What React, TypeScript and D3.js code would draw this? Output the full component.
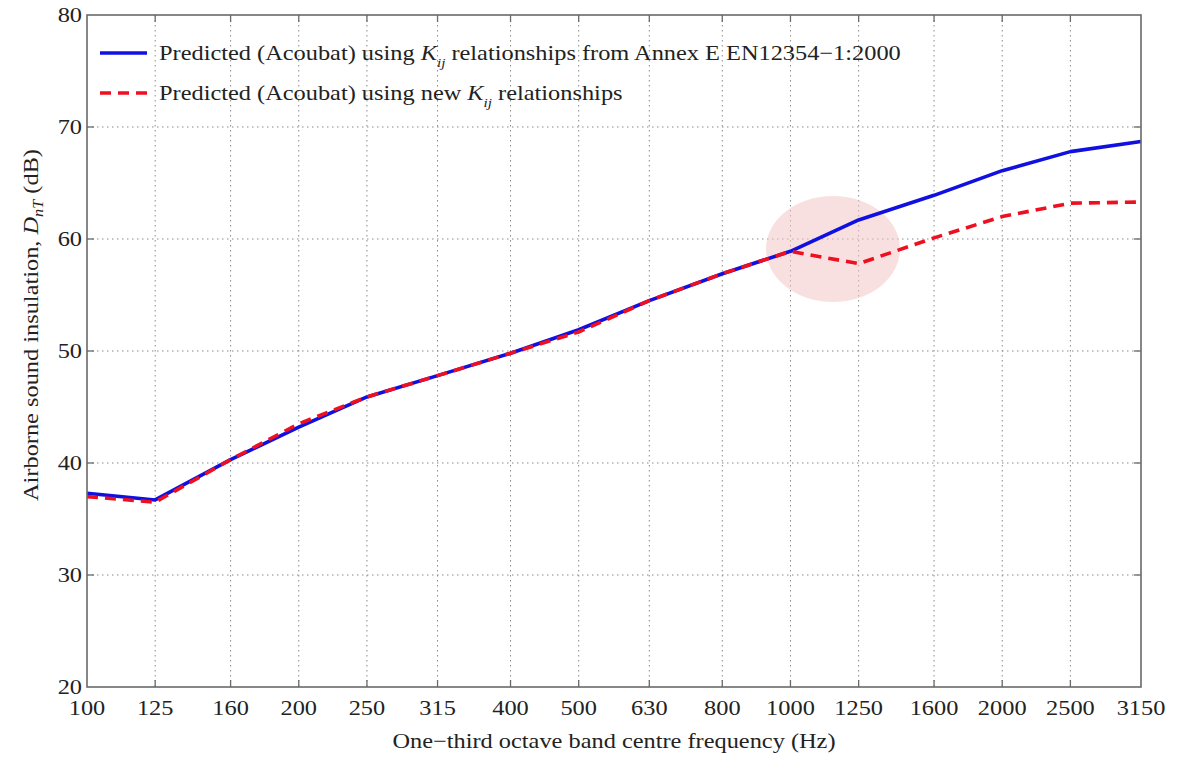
import React from "react";
import * as d3 from "d3";

const frequencies = [100, 125, 160, 200, 250, 315, 400, 500, 630, 800, 1000, 1250, 1600, 2000, 2500, 3150];
const annexE = [37.3, 36.7, 40.3, 43.2, 45.9, 47.8, 49.8, 51.9, 54.5, 56.9, 58.9, 61.7, 63.9, 66.1, 67.8, 68.7];
const newKij = [37.0, 36.5, 40.3, 43.5, 45.9, 47.8, 49.8, 51.7, 54.5, 56.9, 58.9, 57.8, 60.1, 62.0, 63.2, 63.3];
const yTicks = [20, 30, 40, 50, 60, 70, 80];

const W = 1177, H = 760;
const M = { left: 87, right: 1141, top: 15, bottom: 687 };
const FONT = "'Liberation Serif', 'Times New Roman', serif";
const FS = 21;
const SX = 1.16;
const TXT = "#222";

function T(props: { x: number; y: number; rotate?: number; anchor?: string; size?: number; children: React.ReactNode }) {
  const { x, y, rotate = 0, anchor = "start", size = FS, children } = props;
  return (
    <g transform={`translate(${x},${y}) rotate(${rotate}) scale(${SX},1)`}>
      <text x={0} y={0} textAnchor={anchor} fontSize={size} fill={TXT}>{children}</text>
    </g>
  );
}

export default function App() {
  const x = d3.scaleLog().domain([100, 3150]).range([M.left, M.right]);
  const y = d3.scaleLinear().domain([20, 80]).range([M.bottom, M.top]);
  const line = d3.line<number>().x((_, i) => x(frequencies[i])).y((d) => y(d));
  const axisColor = "#6a6a6a";
  const gridColor = "#8a8a8a";
  const tickLen = 7;

  return (
    <svg width={W} height={H} style={{ position: "absolute", left: 0, top: 0, background: "#fff" }} fontFamily={FONT}>
      {/* grid */}
      {frequencies.slice(1, -1).map((f) => (
        <line key={"gx" + f} x1={x(f)} x2={x(f)} y1={M.top} y2={M.bottom} stroke={gridColor} strokeWidth={1} strokeDasharray="1.5,3.5" />
      ))}
      {yTicks.slice(1, -1).map((t) => (
        <line key={"gy" + t} x1={M.left} x2={M.right} y1={y(t)} y2={y(t)} stroke={gridColor} strokeWidth={1} strokeDasharray="1.5,3.5" />
      ))}
      {/* highlight */}
      <ellipse cx={833} cy={249} rx={67} ry={53} fill="#f4c6c6" opacity={0.55} />
      {/* ticks */}
      {frequencies.slice(1, -1).map((f) => (
        <g key={"tx" + f}>
          <line x1={x(f)} x2={x(f)} y1={M.bottom} y2={M.bottom - tickLen} stroke={axisColor} strokeWidth={1.3} />
          <line x1={x(f)} x2={x(f)} y1={M.top} y2={M.top + tickLen} stroke={axisColor} strokeWidth={1.3} />
        </g>
      ))}
      {yTicks.slice(1, -1).map((t) => (
        <g key={"ty" + t}>
          <line x1={M.left} x2={M.left + tickLen} y1={y(t)} y2={y(t)} stroke={axisColor} strokeWidth={1.3} />
          <line x1={M.right} x2={M.right - tickLen} y1={y(t)} y2={y(t)} stroke={axisColor} strokeWidth={1.3} />
        </g>
      ))}
      {/* lines */}
      <path d={line(annexE) || ""} fill="none" stroke="#1010e0" strokeWidth={3.6} strokeLinejoin="round" />
      <path d={line(newKij) || ""} fill="none" stroke="#ee1020" strokeWidth={3.6} strokeDasharray="11,7" />
      {/* frame */}
      <rect x={M.left} y={M.top} width={M.right - M.left} height={M.bottom - M.top} fill="none" stroke={axisColor} strokeWidth={1.6} />
      {/* tick labels */}
      {frequencies.map((f) => (
        <T key={"lx" + f} x={x(f)} y={M.bottom + 28} anchor="middle">{f}</T>
      ))}
      {yTicks.map((t) => (
        <T key={"ly" + t} x={M.left - 5} y={y(t) + 7} anchor="end">{t}</T>
      ))}
      {/* axis labels */}
      <T x={614} y={748} anchor="middle">One−third octave band centre frequency (Hz)</T>
      <T x={38} y={325} rotate={-90} anchor="middle">
        Airborne sound insulation,{"  "}
        <tspan fontStyle="italic">D</tspan>
        <tspan fontStyle="italic" fontSize={14} dy={5}>nT</tspan>
        <tspan dy={-5}> (dB)</tspan>
      </T>
      {/* legend */}
      <line x1={100} x2={147} y1={53} y2={53} stroke="#1010e0" strokeWidth={3.6} />
      <T x={159} y={60}>
        Predicted (Acoubat) using <tspan fontStyle="italic">K</tspan>
        <tspan fontStyle="italic" fontSize={13} dy={7}>ij</tspan>
        <tspan dy={-7}> relationships from Annex E EN12354−1:2000</tspan>
      </T>
      <line x1={100} x2={147} y1={93} y2={93} stroke="#ee1020" strokeWidth={3.6} strokeDasharray="11,7" />
      <T x={159} y={100}>
        Predicted (Acoubat) using new <tspan fontStyle="italic">K</tspan>
        <tspan fontStyle="italic" fontSize={13} dy={7}>ij</tspan>
        <tspan dy={-7}> relationships</tspan>
      </T>
    </svg>
  );
}
